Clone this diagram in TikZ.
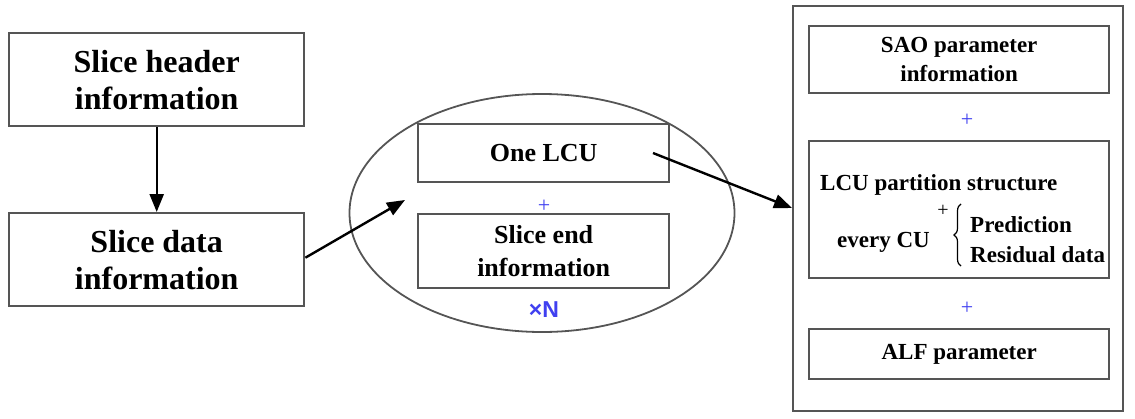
\documentclass[tikz,border=0pt]{standalone}
\usepackage{fontspec}
\setmainfont{Liberation Serif}
\newfontfamily\labsans{Liberation Sans}
\usepackage{xcolor}
\usetikzlibrary{arrows.meta,positioning,shapes.geometric,decorations.pathreplacing}
\definecolor{frame}{HTML}{555555}
\definecolor{plusc}{HTML}{4040F0}
\tikzset{
  box/.style={draw=frame, line width=2.4pt, anchor=north west, align=center,
              inner sep=0pt, font=\bfseries},
  bigb/.style={box, minimum width=295pt, minimum height=93pt,
               font=\fontsize{32}{37}\selectfont\bfseries},
  midb/.style={box, minimum width=251pt,
               font=\fontsize{26}{33}\selectfont\bfseries},
  rgtb/.style={box, minimum width=300pt,
               font=\fontsize{23}{29}\selectfont\bfseries},
  rtxt/.style={font=\fontsize{23}{30}\selectfont\bfseries, inner sep=0pt,
               anchor=base west},
  ar/.style={-{Triangle[length=18pt,width=14pt]}, line width=2.4pt, draw=black},
  plus/.style={text=plusc, font=\fontsize{22}{22}\selectfont, inner sep=0pt},
}
\begin{document}
\begin{tikzpicture}[x=1pt,y=-1pt]
  \useasboundingbox (0,0) rectangle (1135,418);
  % --- slice level ---
  \node[bigb] (hdr) at (8,32) {Slice header\\information};
  \node[bigb] (sdata) at (8,212) {Slice data\\information};

  % --- LCU loop ---
  \node[draw=frame, line width=1.8pt, ellipse, minimum width=385pt,
        minimum height=238pt] (loop) at (542,213) {};
  \node[midb, minimum height=58pt] (lcu) at (417,123) {One LCU};
  \node[plus] (p0) at (544,206) {+};
  \node[midb, minimum height=74pt] (send) at (417,213) {Slice end\\information};
  \node[text=plusc, font=\labsans\fontsize{23}{23}\selectfont\bfseries]
       (times) at (544,310) {×N};

  % --- one LCU content ---
  \node[draw=frame, line width=2.4pt, anchor=north west, minimum width=330pt,
        minimum height=405pt] (cont) at (792,5) {};
  \node[rgtb, minimum height=67pt] (sao) at (808,25) {SAO parameter\\information};
  \node[plus] (p1) at (967,120) {+};
  \node[rgtb, minimum height=137pt] (part) at (808,140) {};
  \node[rtxt] (pstr) at (820,190) {LCU partition structure};
  \node[rtxt] (cu) at (837,247) {every CU};
  \node[font=\fontsize{20}{20}\selectfont, inner sep=0pt] (p2) at (943,211) {+};
  \node[rtxt] (pred) at (970,232) {Prediction};
  \node[rtxt] (resid) at (970,262) {Residual data};
  \draw[line width=1.2pt, decorate, decoration={brace, amplitude=7pt}]
       (961,266) -- (961,204);
  \node[plus] (p3) at (967,308) {+};
  \node[rgtb, minimum height=50pt] (alf) at (808,328) {ALF parameter};

  \coordinate (intip) at (405,200);
  \coordinate (lcuout) at (653,153);
  \draw[ar] (hdr.south) -- (sdata.north);
  \draw[ar] (sdata.east) ++(0,-2) -- (intip);
  \draw[ar] (lcuout) -- (cont.west |- 0,208);
\end{tikzpicture}
\end{document}
